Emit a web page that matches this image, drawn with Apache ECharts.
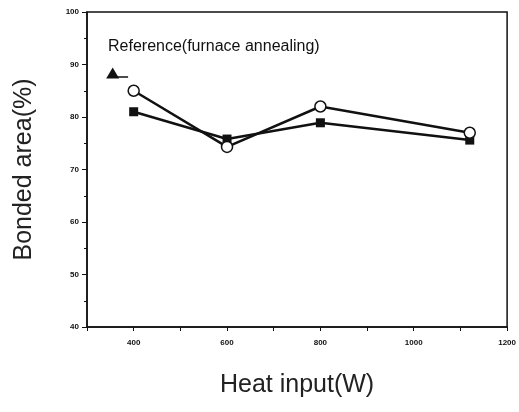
<!DOCTYPE html>
<html>
<head>
<meta charset="utf-8">
<script src="https://cdn.jsdelivr.net/npm/echarts@6/dist/echarts.min.js"></script>
<style>
  html, body { margin: 0; padding: 0; background: #fff; }
  #chart { width: 519px; height: 412px; }
</style>
</head>
<body>
<div id="chart"></div>
<script>
// heat input (W) for each measured point
var heatInput = [400, 600, 800, 1120];
// open circles
var circleArea = [85.0, 74.3, 82.0, 77.0];
// filled squares
var squareArea = [81.0, 75.8, 78.9, 75.6];
// furnace annealing reference point and its little dash
var refPoint = [[355, 88.4]];
var refDash = [[362, 87.6], [388, 87.6]];
var xTickLabels = [400, 600, 800, 1000, 1200];
var yTickLabels = [40, 50, 60, 70, 80, 90, 100];

function pairs(xs, ys) {
    var out = [];
    for (var i = 0; i < xs.length; i++) out.push([xs[i], ys[i]]);
    return out;
}

var myChart = echarts.init(document.getElementById('chart'));
var option = {
    animation: false,
    grid: {
        left: 87,
        right: 9,
        top: 12,
        bottom: 85,
        show: true,
        borderColor: '#111',
        borderWidth: 1.5
    },
    graphic: [{
        type: 'text',
        left: 108,
        top: 39,
        style: {
            text: 'Reference(furnace annealing)',
            font: '16px "Liberation Sans", Arial, sans-serif',
            fill: '#111'
        }
    }],
    xAxis: {
        type: 'value',
        min: 300,
        max: 1200,
        interval: 100,
        name: 'Heat input(W)',
        nameLocation: 'middle',
        nameGap: 46,
        nameTextStyle: { fontSize: 25, color: '#222', fontFamily: 'Liberation Sans' },
        axisLine: { lineStyle: { color: '#111', width: 1.5 } },
        axisTick: { length: 4, lineStyle: { color: '#111' } },
        splitLine: { show: false },
        axisLabel: {
            fontSize: 8,
            fontWeight: 'bold',
            color: '#111',
            margin: 12,
            formatter: function (v) {
                return xTickLabels.indexOf(v) >= 0 ? String(v) : '';
            }
        }
    },
    yAxis: {
        type: 'value',
        min: 40,
        max: 100,
        interval: 10,
        name: 'Bonded area(%)',
        nameLocation: 'middle',
        nameGap: 50,
        nameTextStyle: { fontSize: 25, color: '#222', fontFamily: 'Liberation Sans' },
        axisLine: { show: true, lineStyle: { color: '#111', width: 1.5 } },
        axisTick: { show: true, length: 5, lineStyle: { color: '#111' } },
        minorTick: { show: true, splitNumber: 2, length: 3, lineStyle: { color: '#111' } },
        splitLine: { show: false },
        axisLabel: {
            fontSize: 8,
            fontWeight: 'bold',
            color: '#111',
            margin: 8,
            formatter: function (v) {
                return yTickLabels.indexOf(v) >= 0 ? String(v) : '';
            }
        }
    },
    series: [
        {
            name: 'circle',
            type: 'line',
            data: pairs(heatInput, circleArea),
            symbol: 'circle',
            symbolSize: 11,
            itemStyle: { color: '#fff', borderColor: '#111', borderWidth: 1.5 },
            lineStyle: { color: '#111', width: 2.5 },
            z: 3
        },
        {
            name: 'square',
            type: 'line',
            data: pairs(heatInput, squareArea),
            symbol: 'rect',
            symbolSize: 9,
            itemStyle: { color: '#111' },
            lineStyle: { color: '#111', width: 2.5 },
            z: 2
        },
        {
            name: 'refDash',
            type: 'line',
            data: refDash,
            symbol: 'none',
            lineStyle: { color: '#111', width: 1.5 }
        },
        {
            name: 'reference',
            type: 'scatter',
            data: refPoint,
            symbol: 'triangle',
            symbolSize: [13, 11],
            itemStyle: { color: '#111', opacity: 1 }
        }
    ]
};
myChart.setOption(option);
</script>
</body>
</html>
